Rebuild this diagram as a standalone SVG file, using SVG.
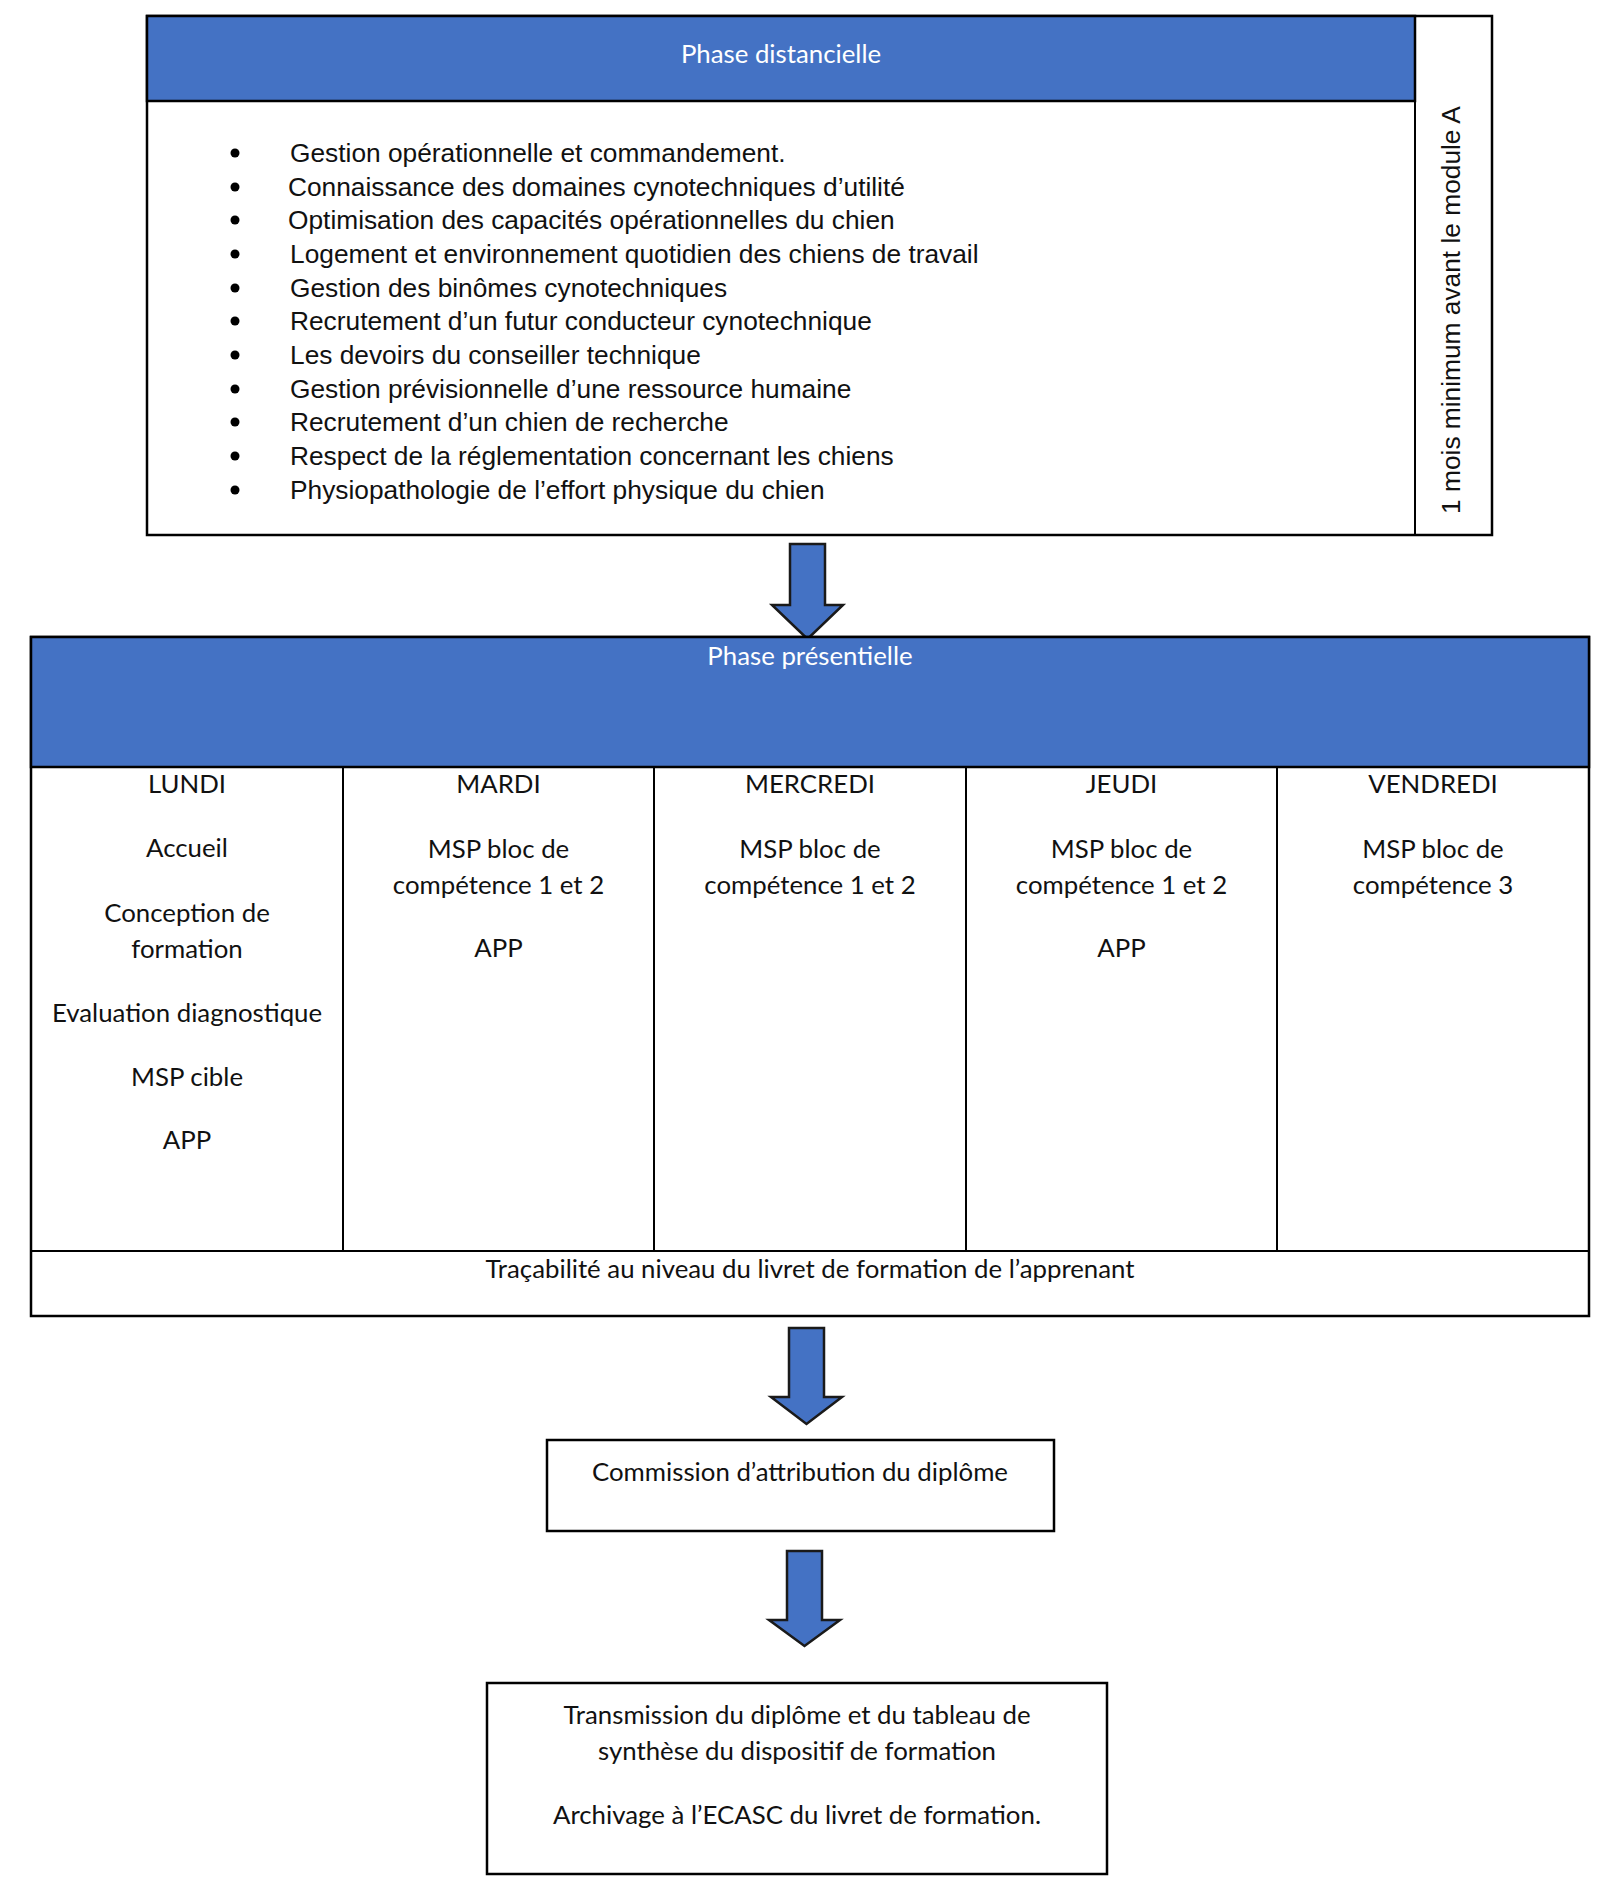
<svg xmlns="http://www.w3.org/2000/svg" width="1624" height="1886" viewBox="0 0 1624 1886">
<style>
.box{fill:#ffffff;stroke:#000000;stroke-width:2.5}
.hdr{fill:#4472C4;stroke:#000000;stroke-width:2.5}
.ln{stroke:#000000;stroke-width:2;fill:none}
.arr{fill:#4472C4;stroke:#1a1a1a;stroke-width:2.5;stroke-linejoin:miter}
.ar{font-family:"Liberation Sans",Arial,sans-serif;font-size:26.3px;fill:#111111}
.cal{font-family:Lato,"Open Sans",sans-serif;font-size:25.8px;fill:#111111;text-anchor:middle}
.wh{font-family:Lato,"Open Sans",sans-serif;font-size:25.8px;fill:#ffffff;text-anchor:middle}
.bul{fill:#000000}
</style>
<rect width="1624" height="1886" fill="#ffffff"/>

<g id="phase-distancielle">
  <rect class="box" x="147" y="16" width="1345" height="519"/>
  <rect class="hdr" x="147" y="16" width="1268" height="85"/>
  <line class="ln" x1="1415" y1="16" x2="1415" y2="535"/>
  <text class="wh" x="781" y="63">Phase distancielle</text>
  <g class="bul">
    <circle cx="235" cy="153" r="4.5"/>
    <circle cx="235" cy="187" r="4.5"/>
    <circle cx="235" cy="220" r="4.5"/>
    <circle cx="235" cy="254" r="4.5"/>
    <circle cx="235" cy="288" r="4.5"/>
    <circle cx="235" cy="321" r="4.5"/>
    <circle cx="235" cy="355" r="4.5"/>
    <circle cx="235" cy="389" r="4.5"/>
    <circle cx="235" cy="422" r="4.5"/>
    <circle cx="235" cy="456" r="4.5"/>
    <circle cx="235" cy="490" r="4.5"/>
  </g>
  <text class="ar" x="290" y="162">Gestion opérationnelle et commandement.</text>
  <text class="ar" x="288" y="196">Connaissance des domaines cynotechniques d’utilité</text>
  <text class="ar" x="288" y="229">Optimisation des capacités opérationnelles du chien</text>
  <text class="ar" x="290" y="263">Logement et environnement quotidien des chiens de travail</text>
  <text class="ar" x="290" y="297">Gestion des binômes cynotechniques</text>
  <text class="ar" x="290" y="330">Recrutement d’un futur conducteur cynotechnique</text>
  <text class="ar" x="290" y="364">Les devoirs du conseiller technique</text>
  <text class="ar" x="290" y="398">Gestion prévisionnelle d’une ressource humaine</text>
  <text class="ar" x="290" y="431">Recrutement d’un chien de recherche</text>
  <text class="ar" x="290" y="465">Respect de la réglementation concernant les chiens</text>
  <text class="ar" x="290" y="499">Physiopathologie de l’effort physique du chien</text>
  <text class="ar" transform="translate(1460,310) rotate(-90)" text-anchor="middle">1 mois minimum avant le module A</text>
</g>

<g id="connectors">
  <path class="arr" d="M790,544 H825 V605 H843 L807.5,639 L772,605 H790 Z"/>
  <path class="arr" d="M789,1328 H824 V1397 H842 L806.5,1424 L771,1397 H789 Z"/>
  <path class="arr" d="M787,1551 H822 V1620 H840 L804.5,1646 L769,1620 H787 Z"/>
</g>

<g id="phase-presentielle">
  <rect class="box" x="31" y="637" width="1558" height="679"/>
  <rect class="hdr" x="31" y="637" width="1558" height="130"/>
  <text class="wh" x="810" y="665">Phase présentielle</text>
  <line class="ln" x1="343" y1="767" x2="343" y2="1251"/>
  <line class="ln" x1="654" y1="767" x2="654" y2="1251"/>
  <line class="ln" x1="966" y1="767" x2="966" y2="1251"/>
  <line class="ln" x1="1277" y1="767" x2="1277" y2="1251"/>
  <line class="ln" x1="31" y1="1251" x2="1589" y2="1251"/>
</g>

<g id="lundi">
  <text class="cal" x="187" y="793">LUNDI</text>
  <text class="cal" x="187" y="857">Accueil</text>
  <text class="cal" x="187" y="922">Conception de</text>
  <text class="cal" x="187" y="958">formation</text>
  <text class="cal" x="187" y="1022">Evaluation diagnostique</text>
  <text class="cal" x="187" y="1086">MSP cible</text>
  <text class="cal" x="187" y="1149">APP</text>
</g>
<g id="mardi">
  <text class="cal" x="498.5" y="793">MARDI</text>
  <text class="cal" x="498.5" y="858">MSP bloc de</text>
  <text class="cal" x="498.5" y="894">compétence 1 et 2</text>
  <text class="cal" x="498.5" y="957">APP</text>
</g>
<g id="mercredi">
  <text class="cal" x="810" y="793">MERCREDI</text>
  <text class="cal" x="810" y="858">MSP bloc de</text>
  <text class="cal" x="810" y="894">compétence 1 et 2</text>
</g>
<g id="jeudi">
  <text class="cal" x="1121.5" y="793">JEUDI</text>
  <text class="cal" x="1121.5" y="858">MSP bloc de</text>
  <text class="cal" x="1121.5" y="894">compétence 1 et 2</text>
  <text class="cal" x="1121.5" y="957">APP</text>
</g>
<g id="vendredi">
  <text class="cal" x="1433" y="793">VENDREDI</text>
  <text class="cal" x="1433" y="858">MSP bloc de</text>
  <text class="cal" x="1433" y="894">compétence 3</text>
</g>
<g id="tracabilite">
  <text class="cal" x="810" y="1278">Traçabilité au niveau du livret de formation de l’apprenant</text>
</g>

<g id="commission">
  <rect class="box" x="547" y="1440" width="507" height="91"/>
  <text class="cal" x="800" y="1481">Commission d’attribution du diplôme</text>
</g>

<g id="transmission">
  <rect class="box" x="487" y="1683" width="620" height="191"/>
  <text class="cal" x="797" y="1724">Transmission du diplôme et du tableau de</text>
  <text class="cal" x="797" y="1760">synthèse du dispositif de formation</text>
  <text class="cal" x="797" y="1824">Archivage à l’ECASC du livret de formation.</text>
</g>
</svg>
